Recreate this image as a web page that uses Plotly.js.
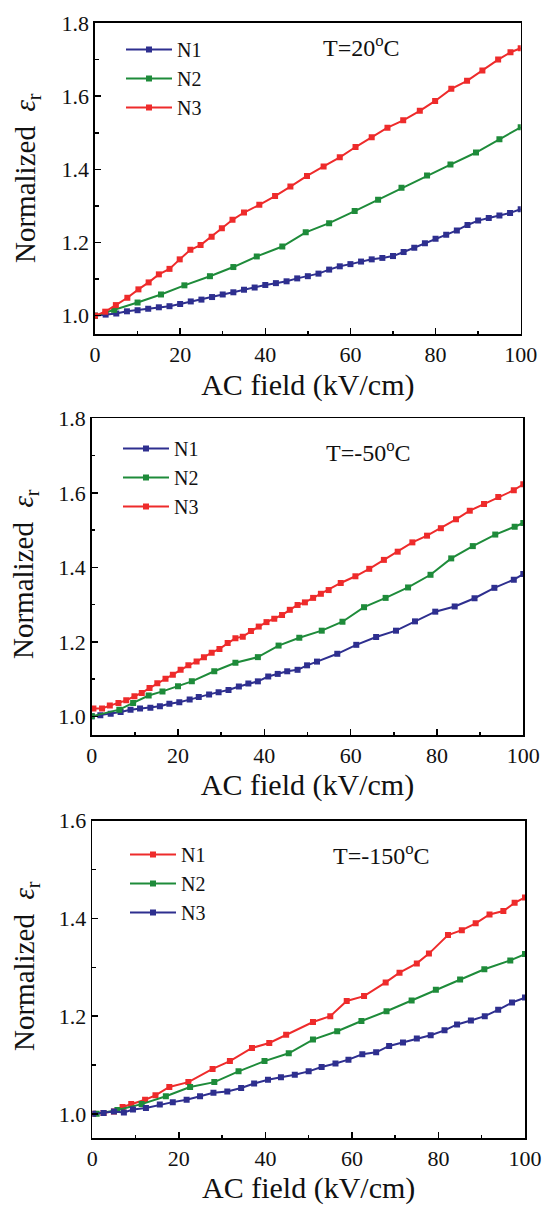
<!DOCTYPE html>
<html>
<head>
<meta charset="utf-8">
<script src="https://cdn.plot.ly/plotly-3.0.1.min.js"></script>
<style>html,body{margin:0;padding:0;background:#fff;}#chart{width:542px;height:1205px;}</style>
</head>
<body>
<div id="chart"></div>
<script>
// ---------- Data ----------
// Panel 1: T = 20 °C
const p1_N1_x = [0,2.5,5,7.5,10,12.5,15,17.5,20,22.5,25,27.5,30,32.5,35,37.5,40,42.5,45,47.5,50,52.5,55,57.5,60,62.5,65,67.5,70,72.5,75,77.5,80,82.5,85,87.5,90,92.5,95,97.5,100];
const p1_N1_y = [1.000,1.003,1.006,1.012,1.015,1.019,1.023,1.026,1.032,1.039,1.044,1.051,1.058,1.064,1.071,1.077,1.084,1.089,1.094,1.102,1.108,1.115,1.126,1.135,1.141,1.148,1.154,1.158,1.163,1.174,1.186,1.198,1.210,1.221,1.233,1.248,1.260,1.267,1.274,1.281,1.291];
const p1_N2_x = [0,4.5,10,15.5,21,27,32.5,38,44,49.5,55,61,66.5,72,78,83.5,89.5,95,100];
const p1_N2_y = [1.000,1.016,1.036,1.058,1.083,1.108,1.133,1.162,1.189,1.228,1.253,1.286,1.317,1.350,1.383,1.413,1.446,1.482,1.515];
const p1_N3_x = [0,2.4,4.9,7.6,10.2,12.6,15,17.5,19.9,22.4,24.8,27.4,29.8,32.3,35,38.6,42.3,45.9,49.8,53.7,57.5,61.2,65,68.7,72.4,76.3,79.9,83.7,87.4,91,94.7,97.6,100];
const p1_N3_y = [1.000,1.011,1.029,1.049,1.072,1.091,1.113,1.128,1.154,1.180,1.193,1.216,1.239,1.262,1.282,1.303,1.327,1.353,1.382,1.408,1.433,1.461,1.488,1.514,1.534,1.560,1.587,1.620,1.642,1.670,1.700,1.720,1.731];

// Panel 2: T = -50 °C
const p2_N1_x = [0,2,4.4,6.7,9,11.2,13.6,15.8,18,20.3,22.7,24.8,27.2,29.4,31.7,34.1,36.3,38.5,40.9,43.1,45.3,47.7,49.9,52.2,56.9,61.3,65.9,70.5,74.9,79.6,84.1,88.7,93.3,97.8,100];
const p2_N1_y = [1.000,1.003,1.007,1.012,1.018,1.021,1.023,1.027,1.034,1.038,1.045,1.052,1.059,1.065,1.071,1.080,1.088,1.094,1.107,1.114,1.121,1.125,1.137,1.147,1.168,1.192,1.213,1.230,1.255,1.281,1.295,1.317,1.345,1.367,1.382];
const p2_N2_x = [0,6.4,9.6,13.2,16.4,20,23.2,28.4,33.3,38.5,43.3,48.1,53.3,58.1,63.1,68.1,73.3,78.5,83.3,88.3,93.5,98,100];
const p2_N2_y = [1.000,1.018,1.036,1.056,1.067,1.081,1.094,1.121,1.144,1.159,1.190,1.211,1.230,1.254,1.293,1.318,1.346,1.380,1.424,1.457,1.488,1.509,1.519];
const p2_N3_x = [0.4,2.4,4.2,6.2,8,9.9,11.6,13.4,15.2,17.1,18.8,20.6,22.4,24.3,26,27.8,29.6,31.5,33.3,35,36.9,38.7,40.5,42.3,44.1,45.9,47.7,49.4,51.3,53.1,54.9,57.7,61.1,64.3,67.7,70.9,74.3,77.7,80.9,84.4,87.6,90.9,94.2,97.8,100];
const p2_N3_y = [1.021,1.021,1.029,1.036,1.043,1.054,1.063,1.076,1.089,1.101,1.112,1.125,1.137,1.147,1.159,1.171,1.181,1.197,1.210,1.214,1.229,1.241,1.253,1.262,1.272,1.286,1.299,1.306,1.318,1.329,1.339,1.358,1.376,1.396,1.420,1.442,1.467,1.485,1.505,1.529,1.552,1.570,1.589,1.607,1.623];

// Panel 3: T = -150 °C
const p3_N1_x = [0.2,2.6,5,7,9,12.2,14.6,17.8,22.2,27.8,31.8,36.9,40.9,44.8,51,55,58.8,62.8,67.8,71,75,77.8,82.2,85.4,88.6,91.8,95,97.6,100];
const p3_N1_y = [1.000,1.002,1.005,1.014,1.020,1.029,1.038,1.055,1.065,1.092,1.108,1.135,1.145,1.162,1.188,1.200,1.231,1.241,1.269,1.289,1.308,1.328,1.366,1.376,1.390,1.408,1.415,1.432,1.443];
const p3_N2_x = [1,5.8,11.4,17,22.6,28.2,33.8,39.8,45.4,51,56.6,62.2,68,73.8,79.4,85,90.6,96.6,100];
const p3_N2_y = [1.000,1.008,1.020,1.036,1.055,1.065,1.087,1.108,1.124,1.152,1.169,1.190,1.210,1.232,1.254,1.275,1.296,1.314,1.327];
const p3_N3_x = [0.2,2.6,5,7.3,9.4,12.4,15.6,18.6,21.8,24.9,28,31.2,34.4,37.4,40.6,43.6,46.8,50,53,56.2,59.2,62.4,65.6,68.6,71.8,75,78.2,81.4,84.3,87.5,90.7,93.8,97,100];
const p3_N3_y = [1.000,1.002,1.005,1.003,1.009,1.012,1.019,1.024,1.029,1.036,1.043,1.046,1.053,1.062,1.070,1.075,1.080,1.087,1.096,1.103,1.111,1.122,1.126,1.139,1.146,1.154,1.161,1.171,1.183,1.191,1.200,1.213,1.228,1.238];

const seriesNames = ["N1","N2","N3"];
const tempLabels = ["T=20<sup>o</sup>C","T=-50<sup>o</sup>C","T=-150<sup>o</sup>C"];
const xTitle = "AC field (kV/cm)";
const yTitle = "Normalized \u00A0<i>ε</i><sub>r</sub>";

// ---------- Styling ----------
const BLUE = "#2e2f8f", GREEN = "#1e8b3a", RED = "#ee2b2b";
const FONT = "Liberation Serif";
const W = 542, H = 1205;
const px = v => v / W;           // horizontal pixel -> paper
const py = v => 1 - v / H;       // vertical pixel -> paper

function tr(x, y, name, color, xa, ya, lg) {
  return {
    x: x, y: y, name: name, type: "scatter", mode: "lines+markers",
    line: {color: color, width: 2},
    marker: {symbol: "square", size: 6, color: color},
    xaxis: xa, yaxis: ya, legend: lg
  };
}

const data = [
  tr(p1_N1_x, p1_N1_y, seriesNames[0], BLUE,  "x",  "y",  "legend"),
  tr(p1_N2_x, p1_N2_y, seriesNames[1], GREEN, "x",  "y",  "legend"),
  tr(p1_N3_x, p1_N3_y, seriesNames[2], RED,   "x",  "y",  "legend"),
  tr(p2_N1_x, p2_N1_y, seriesNames[0], BLUE,  "x2", "y2", "legend2"),
  tr(p2_N2_x, p2_N2_y, seriesNames[1], GREEN, "x2", "y2", "legend2"),
  tr(p2_N3_x, p2_N3_y, seriesNames[2], RED,   "x2", "y2", "legend2"),
  tr(p3_N1_x, p3_N1_y, seriesNames[0], RED,   "x3", "y3", "legend3"),
  tr(p3_N2_x, p3_N2_y, seriesNames[1], GREEN, "x3", "y3", "legend3"),
  tr(p3_N3_x, p3_N3_y, seriesNames[2], BLUE,  "x3", "y3", "legend3")
];

function xax(domL, domR, anchor, standoff) {
  return {
    domain: [px(domL), px(domR)], anchor: anchor, range: [0, 100],
    tick0: 0, dtick: 20, ticks: "inside", ticklen: 6, tickwidth: 1.5, tickcolor: "#000",
    minor: {dtick: 10, ticks: "inside", ticklen: 3.5, tickwidth: 1.5, tickcolor: "#000"},
    showline: true, linecolor: "#000", linewidth: 1.6, mirror: true,
    showgrid: false, zeroline: false, automargin: false,
    tickfont: {family: FONT, size: 22, color: "#111"},
    title: {text: xTitle, font: {family: FONT, size: 30, color: "#111"}, standoff: standoff}
  };
}
function yax(domT, domB, anchor, lo, hi) {
  return {
    domain: [py(domB), py(domT)], anchor: anchor, range: [lo, hi],
    tick0: 1.0, dtick: 0.2, tickformat: ".1f",
    ticks: "inside", ticklen: 6, tickwidth: 1.5, tickcolor: "#000",
    minor: {dtick: 0.1, ticks: "inside", ticklen: 3.5, tickwidth: 1.5, tickcolor: "#000"},
    showline: true, linecolor: "#000", linewidth: 1.6, mirror: true,
    showgrid: false, zeroline: false, automargin: false,
    tickfont: {family: FONT, size: 22, color: "#111"}
  };
}
function leg(xpx, ypx) {
  return {
    x: px(xpx), y: py(ypx), xanchor: "left", yanchor: "top",
    bgcolor: "rgba(0,0,0,0)", borderwidth: 0,
    font: {family: FONT, size: 20, color: "#111"},
    itemwidth: 46, tracegroupgap: 0
  };
}
function ann(text, xv, yv, size, angle) {
  return {text: text, xref: "paper", yref: "paper", x: xv, y: yv, showarrow: false,
          xanchor: "center", yanchor: "middle", textangle: angle || 0,
          font: {family: FONT, size: size, color: "#111"}};
}

const layout = {
  width: W, height: H,
  font: {family: FONT, size: 22, color: "#111"},
  margin: {l: 0, r: 0, t: 0, b: 0},
  paper_bgcolor: "#fff", plot_bgcolor: "#fff",
  showlegend: true,
  xaxis:  xax(95, 520.7, "y", 8),
  yaxis:  yax(23, 334, "x", 0.95, 1.8),
  xaxis2: xax(91.7, 523.3, "y2", 4),
  yaxis2: yax(418.3, 735, "x2", 0.95, 1.8),
  xaxis3: xax(92.3, 525, "y3", 16),
  yaxis3: yax(820.7, 1138.3, "x3", 0.95, 1.6),
  legend:  leg(121, 30),
  legend2: leg(118, 429),
  legend3: leg(125, 835),
  annotations: [
    ann(tempLabels[0], px(362), py(46), 24),
    ann(tempLabels[1], px(368), py(451), 24),
    ann(tempLabels[2], px(381), py(854), 24),
    // y-axis titles of the three panels
    ann(yTitle, px(27), py(178), 29, -90),
    ann(yTitle, px(25), py(574), 29, -90),
    ann(yTitle, px(26), py(966), 29, -90)
  ]
};

Plotly.newPlot("chart", data, layout, {displayModeBar: false, staticPlot: true});
</script>
</body>
</html>
